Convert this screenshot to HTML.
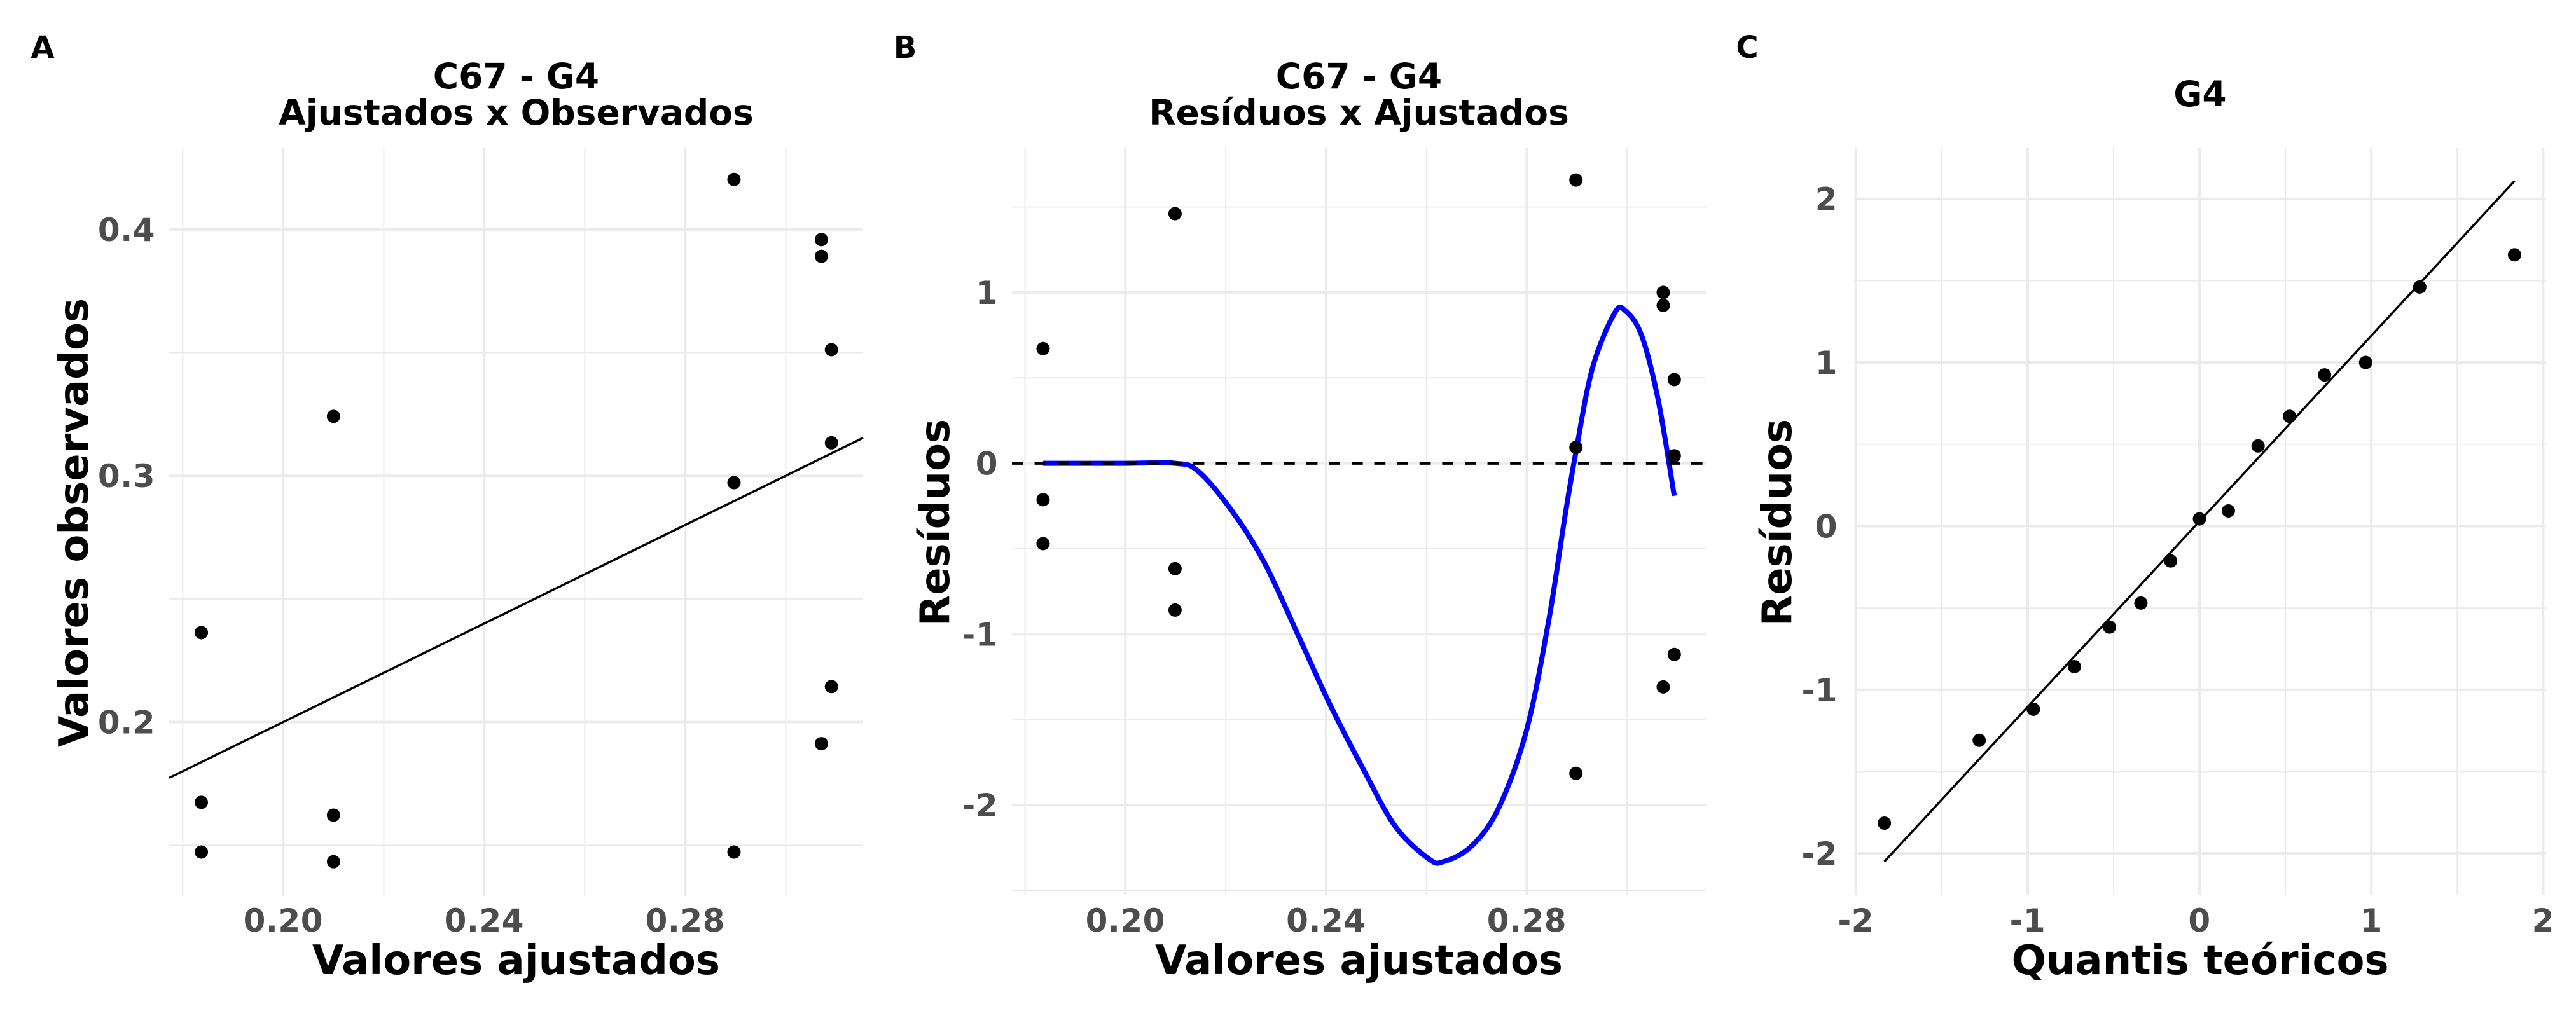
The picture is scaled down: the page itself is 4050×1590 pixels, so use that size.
<!DOCTYPE html>
<html><head><meta charset="utf-8"><style>
html,body{margin:0;padding:0;background:#fff;}
svg{display:block;font-family:"DejaVu Sans","Liberation Sans",sans-serif;font-weight:bold;}
</style></head><body>
<svg id="fig" xmlns="http://www.w3.org/2000/svg" width="4050" height="1590" viewBox="0 0 4050 1590"></svg>
<script>
// Panel A data
const aFitted = [0.1837,0.1837,0.1837,0.2100,0.2100,0.2100,0.2897,0.2897,0.2897,0.3071,0.3071,0.3071,0.3091,0.3091,0.3091];
const aObserved = [0.2363,0.1674,0.1472,0.3241,0.1622,0.1433,0.4203,0.2972,0.1472,0.3959,0.3891,0.1912,0.3512,0.3134,0.2144];
const aXTicks = [0.20,0.24,0.28];
const aXTickLabels = ["0.20","0.24","0.28"];
const aYTicks = [0.2,0.3,0.4];
const aYTickLabels = ["0.2","0.3","0.4"];
const aLine = [0,1]; // intercept, slope
// Panel B data
const bFitted = [0.1836,0.1836,0.1836,0.2099,0.2099,0.2099,0.2898,0.2898,0.2898,0.3072,0.3072,0.3072,0.3094,0.3094,0.3094];
const bResid = [0.671,-0.213,-0.470,1.461,-0.617,-0.859,1.658,0.093,-1.815,1.0,0.924,-1.309,0.490,0.044,-1.119];
const bSmoothX = [0.1836,0.2000,0.2099,0.2145,0.2211,0.2276,0.2342,0.2407,0.2473,0.2538,0.2604,0.2634,0.2691,0.2745,0.2800,0.2844,0.2876,0.2898,0.2931,0.2975,0.2997,0.3029,0.3062,0.3094];
const bSmoothY = [0,0,0,-0.046,-0.273,-0.575,-0.991,-1.407,-1.784,-2.125,-2.314,-2.332,-2.238,-2.011,-1.557,-0.916,-0.311,0.067,0.558,0.879,0.891,0.747,0.369,-0.190];
const bXTicks = [0.20,0.24,0.28];
const bXTickLabels = ["0.20","0.24","0.28"];
const bYTicks = [-2,-1,0,1];
const bYTickLabels = ["-2","-1","0","1"];
// Panel C data
const cTheo = [-1.834,-1.282,-0.967,-0.728,-0.524,-0.341,-0.168,0,0.168,0.341,0.524,0.728,0.967,1.282,1.834];
const cSample = [-1.815,-1.309,-1.119,-0.859,-0.617,-0.470,-0.213,0.044,0.093,0.490,0.671,0.924,1.0,1.461,1.658];
const cLine = [0.0295,1.134]; // intercept, slope
const cXTicks = [-2,-1,0,1,2];
const cXTickLabels = ["-2","-1","0","1","2"];
const cYTicks = [-2,-1,0,1,2];
const cYTickLabels = ["-2","-1","0","1","2"];

const NS="http://www.w3.org/2000/svg";
const svg=document.getElementById('fig');
function mk(tag,attrs,parent){const e=document.createElementNS(NS,tag);for(const k in attrs)e.setAttribute(k,attrs[k]);(parent||svg).appendChild(e);return e;}
function lin(d0,d1,r0,r1){return v=>r0+(v-d0)/(d1-d0)*(r1-r0);}

function panel(cfg){
  const g=mk('g',{});
  
  
  const x=cfg.x,y=cfg.y;
  const gg=mk('g',{},g);
  
  
  cfg.xMinor.forEach(v=>{const l=mk('line',{x1:x(v),x2:x(v),y1:cfg.top,y2:cfg.bottom,stroke:'#ebebeb','stroke-width':2},gg);
    
    });
  cfg.yMinor.forEach(v=>{const l=mk('line',{x1:cfg.left,x2:cfg.right,y1:y(v),y2:y(v),stroke:'#ebebeb','stroke-width':2},gg);
    
    });
  cfg.xTicks.forEach(v=>{const l=mk('line',{x1:x(v),x2:x(v),y1:cfg.top,y2:cfg.bottom,stroke:'#ebebeb','stroke-width':4},gg);
    
    });
  cfg.yTicks.forEach(v=>{const l=mk('line',{x1:cfg.left,x2:cfg.right,y1:y(v),y2:y(v),stroke:'#ebebeb','stroke-width':4},gg);
    
    });
  cfg.xTicks.forEach((v,i)=>{const t=mk('text',{x:x(v),y:1465,'text-anchor':'middle','font-size':50,fill:'#4d4d4d','letter-spacing':0.5},g);t.textContent=cfg.xTickLabels[i];
    
    });
  cfg.yTicks.forEach((v,i)=>{const t=mk('text',{x:cfg.yLabelX,y:y(v)+18,'text-anchor':'end','font-size':50,fill:'#4d4d4d','letter-spacing':0.5},g);t.textContent=cfg.yTickLabels[i];
    
    });
  const cx=(cfg.left+cfg.right)/2;
  const xt=mk('text',{x:cx,y:1532,'text-anchor':'middle','font-size':64,fill:'#000'},g);xt.textContent=cfg.xTitle;
  
  
  const yt=mk('text',{x:0,y:0,'text-anchor':'middle','font-size':64,fill:'#000',transform:`translate(${cfg.yTitleX},822) rotate(-90)`},g);yt.textContent=cfg.yTitle;
  
  
  cfg.titles.forEach(([txt,by])=>{const t=mk('text',{x:cx,y:by,'text-anchor':'middle','font-size':55,fill:'#000'},g);t.textContent=txt;
    
    });
  const tag=mk('text',{x:cfg.tagX,y:91,'text-anchor':'middle','font-size':48,fill:'#000'},g);tag.textContent=cfg.tag;
  
  
  return g;
}
function dots(g,xs,ys,x,y){xs.forEach((v,i)=>{const c=mk('circle',{cx:x(v),cy:y(ys[i]),r:10.5,fill:'#000'},g);
  
  });}
function smoothPath(pts){
  let d='M'+pts[0][0].toFixed(1)+' '+pts[0][1].toFixed(1);
  for(let i=0;i<pts.length-1;i++){
    const p0=pts[Math.max(0,i-1)],p1=pts[i],p2=pts[i+1],p3=pts[Math.min(pts.length-1,i+2)];
    const c1=[p1[0]+(p2[0]-p0[0])/6,p1[1]+(p2[1]-p0[1])/6];
    const c2=[p2[0]-(p3[0]-p1[0])/6,p2[1]-(p3[1]-p1[1])/6];
    d+=` C${c1[0].toFixed(1)} ${c1[1].toFixed(1)} ${c2[0].toFixed(1)} ${c2[1].toFixed(1)} ${p2[0].toFixed(1)} ${p2[1].toFixed(1)}`;
  }
  return d;
}

// ---- Panel A
{
 const L=266,R=1357,T=231.5,B=1409;
 const x=lin(0.1773,0.3154,L,R), y=lin(0.4334,0.1294,T,B);
 const g=panel({name:'panel-a',x,y,left:L,right:R,top:T,bottom:B,xMinor:[0.18,0.22,0.26,0.30],yMinor:[0.15,0.25,0.35],
  xTicks:aXTicks,xTickLabels:aXTickLabels,yTicks:aYTicks,yTickLabels:aYTickLabels,yLabelX:244,
  xTitle:'Valores ajustados',yTitle:'Valores observados',yTitleX:138,titles:[['C67 - G4',139],['Ajustados x Observados',196]],tag:'A',tagX:67});
 const x0=0.1773,x1=0.3154;
 const l=mk('line',{x1:x(x0),y1:y(aLine[0]+aLine[1]*x0),x2:x(x1),y2:y(aLine[0]+aLine[1]*x1),stroke:'#000','stroke-width':3.5},g);
 
 
 dots(g,aFitted,aObserved,x,y);
}
// ---- Panel B
{
 const L=1591,R=2682,T=231.5,B=1408;
 const x=lin(0.20,0.28,1769.3,2400.4), y=lin(1,-2,459.9,1266);
 const g=panel({name:'panel-b',x,y,left:L,right:R,top:T,bottom:B,xMinor:[0.18,0.22,0.26,0.30],yMinor:[-2.5,-1.5,-0.5,0.5,1.5],
  xTicks:bXTicks,xTickLabels:bXTickLabels,yTicks:bYTicks,yTickLabels:bYTickLabels,yLabelX:1569,
  xTitle:'Valores ajustados',yTitle:'Resíduos',yTitleX:1492,titles:[['C67 - G4',139],['Resíduos x Ajustados',196]],tag:'B',tagX:1423});
 const pts=bSmoothX.map((v,i)=>[x(v),y(bSmoothY[i])]);
 const p=mk('path',{d:smoothPath(pts),fill:'none',stroke:'#0000ff','stroke-width':8,'stroke-linejoin':'round'},g);
 
 
 const d=mk('line',{x1:L,x2:R,y1:y(0),y2:y(0),stroke:'#000','stroke-width':4.5,'stroke-dasharray':'17.6 18'},g);
 
 
 dots(g,bFitted,bResid,x,y);
}
// ---- Panel C
{
 const L=2915,R=4003,T=231.5,B=1408;
 const x=lin(-2,2,2917.8,3998.3), y=lin(2,-2,312.7,1342.1);
 const g=panel({name:'panel-c',x,y,left:L,right:R,top:T,bottom:B,xMinor:[-1.5,-0.5,0.5,1.5],yMinor:[-1.5,-0.5,0.5,1.5],
  xTicks:cXTicks,xTickLabels:cXTickLabels,yTicks:cYTicks,yTickLabels:cYTickLabels,yLabelX:2889,
  xTitle:'Quantis teóricos',yTitle:'Resíduos',yTitleX:2816,titles:[['G4',167]],tag:'C',tagX:2747});
 const q0=cTheo[0],q1=cTheo[cTheo.length-1];
 const l=mk('line',{x1:x(q0),y1:y(cLine[0]+cLine[1]*q0),x2:x(q1),y2:y(cLine[0]+cLine[1]*q1),stroke:'#000','stroke-width':3.5},g);
 
 
 dots(g,cTheo,cSample,x,y);
}
</script>
</body></html>
